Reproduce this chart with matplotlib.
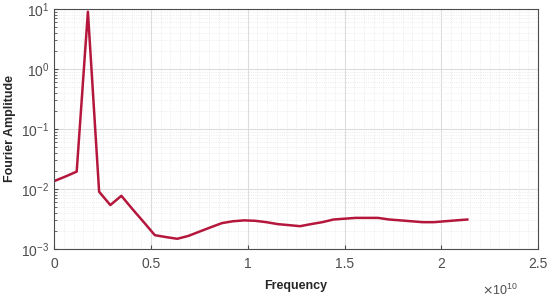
import matplotlib
matplotlib.use("Agg")
import matplotlib.pyplot as plt
import numpy as np
from matplotlib.ticker import FuncFormatter, MultipleLocator, LogLocator, NullFormatter

plt.rcParams['font.family'] = ['Liberation Sans', 'DejaVu Sans']

freq_ghz10 = [0.000, 0.058, 0.115, 0.173, 0.231, 0.289, 0.346, 0.404, 0.462, 0.519,
              0.577, 0.635, 0.692, 0.750, 0.808, 0.866, 0.923, 0.981, 1.039, 1.096,
              1.154, 1.212, 1.270, 1.327, 1.385, 1.443, 1.500, 1.558, 1.616, 1.673,
              1.731, 1.789, 1.846, 1.904, 1.962, 2.019, 2.077, 2.135]
amplitude = [0.0136, 0.0162, 0.0195, 9.0, 0.009, 0.0054, 0.0077, 0.0046, 0.0028, 0.0017,
             0.00158, 0.00148, 0.00165, 0.00195, 0.0023, 0.0027, 0.0029, 0.0030, 0.00295, 0.0028,
             0.0026, 0.0025, 0.0024, 0.0026, 0.0028, 0.0031, 0.0032, 0.0033, 0.0033, 0.0033,
             0.0031, 0.0030, 0.0029, 0.0028, 0.0028, 0.0029, 0.0030, 0.0031]
freq = np.array(freq_ghz10) * 1e10

fig = plt.figure(figsize=(5.5, 3.0), dpi=100)
ax = fig.add_axes([0.099, 0.17, 0.879, 0.80])

ax.plot(freq, amplitude, color='#B5173C', lw=1.8)
ax.set_yscale('log')
ax.set_xlim(0, 2.5e10)
ax.set_ylim(1e-3, 1e1)

ax.xaxis.set_major_locator(MultipleLocator(0.5e10))
ax.xaxis.set_minor_locator(MultipleLocator(0.05e10))
ax.xaxis.set_major_formatter(FuncFormatter(lambda v, p: f"{v/1e10:g}"))
ax.yaxis.set_major_locator(LogLocator(base=10, numticks=10))
ax.yaxis.set_minor_locator(LogLocator(base=10, subs=np.arange(2, 10), numticks=20))
ax.yaxis.set_minor_formatter(NullFormatter())

ax.grid(True, which='major', color='#DCDCDC', lw=0.8, ls='-')
ax.grid(True, which='minor', color='#E6E6E6', lw=0.6, ls=':')
ax.set_axisbelow(True)

for s in ax.spines.values():
    s.set_color('#4D4D4D')
    s.set_linewidth(0.8)
ax.tick_params(which='both', direction='in', colors='#4D4D4D', labelcolor='#4D4D4D', labelsize=10)
ax.tick_params(which='minor', length=2)
ax.tick_params(which='major', length=3)
ax.tick_params(axis='x', which='minor', length=0)
ax.tick_params(axis='x', pad=6)

fig.text(500 / 550, 1 - 290 / 300, r'$\times\mathregular{10^{10}}$', fontsize=9,
         color='#4D4D4D', ha='center', va='center')

ax.set_xlabel('Frequency', fontsize=9, fontweight='bold', color='#262626', labelpad=6)
ax.set_ylabel('Fourier Amplitude', fontsize=9, fontweight='bold', color='#262626')

fig.savefig('out.png', dpi=100)
